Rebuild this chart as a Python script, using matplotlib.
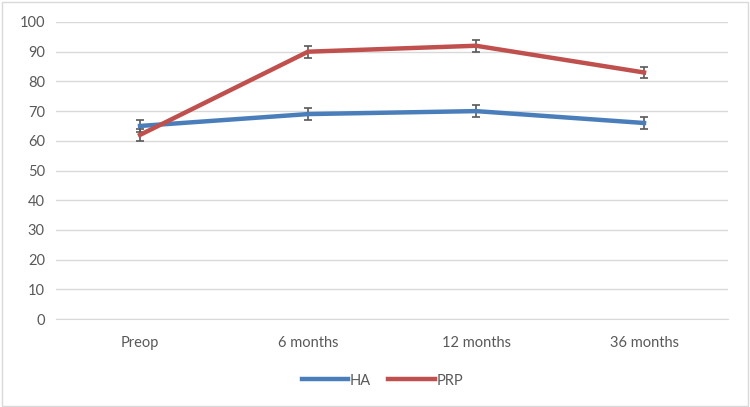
import matplotlib
matplotlib.use("Agg")
import matplotlib.pyplot as plt
from matplotlib.patches import Rectangle

categories = ["Preop", "6 months", "12 months", "36 months"]
ha_values = [65, 69, 70, 66]
prp_values = [62, 90, 92, 83]
ha_err = [2, 2, 2, 2]
prp_err = [2, 2, 2, 2]
y_ticks = [0, 10, 20, 30, 40, 50, 60, 70, 80, 90, 100]

plt.rcParams['font.family'] = ['Lato', 'DejaVu Sans']
txt = '#595959'

fig = plt.figure(figsize=(7.5, 4.07), dpi=100)
fig.patches.append(Rectangle((0.002, 0.003), 0.995, 0.993, transform=fig.transFigure,
                             fill=False, edgecolor='#d9d9d9', linewidth=1.0))
ax = fig.add_axes([0.0747, 0.216, 0.896, 0.730])

x = list(range(len(categories)))
ax.errorbar(x, ha_values, yerr=ha_err, color='#4a7ebb', linewidth=3.2, ecolor='#595959',
            elinewidth=1.2, capsize=3, capthick=1.2, label='HA', zorder=3)
ax.errorbar(x, prp_values, yerr=prp_err, color='#c0504d', linewidth=3.2, ecolor='#595959',
            elinewidth=1.2, capsize=3, capthick=1.2, label='PRP', zorder=3)

ax.set_xlim(-0.5, len(categories) - 0.5)
ax.set_ylim(0, 100)
ax.set_yticks(y_ticks)
ax.set_xticks(x)
ax.set_xticklabels(categories)
ax.grid(axis='y', color='#d9d9d9', linewidth=1.0)
ax.set_axisbelow(True)
for s in ['top', 'right', 'left']:
    ax.spines[s].set_visible(False)
ax.spines['bottom'].set_color('#d9d9d9')
ax.tick_params(axis='both', length=0, labelsize=10.5, colors=txt, pad=8)
ax.tick_params(axis='x', pad=12)

h, l = ax.get_legend_handles_labels()
from matplotlib.lines import Line2D
handles = [Line2D([0], [0], color='#4a7ebb', lw=3.2), Line2D([0], [0], color='#c0504d', lw=3.2)]
fig.legend(handles, ['HA', 'PRP'], loc='center', bbox_to_anchor=(0.51, 0.065), ncol=2,
           frameon=False, fontsize=10.5, labelcolor=txt, handlelength=3.2,
           handletextpad=0.1, columnspacing=1.2)

fig.savefig('out.png', dpi=100)
